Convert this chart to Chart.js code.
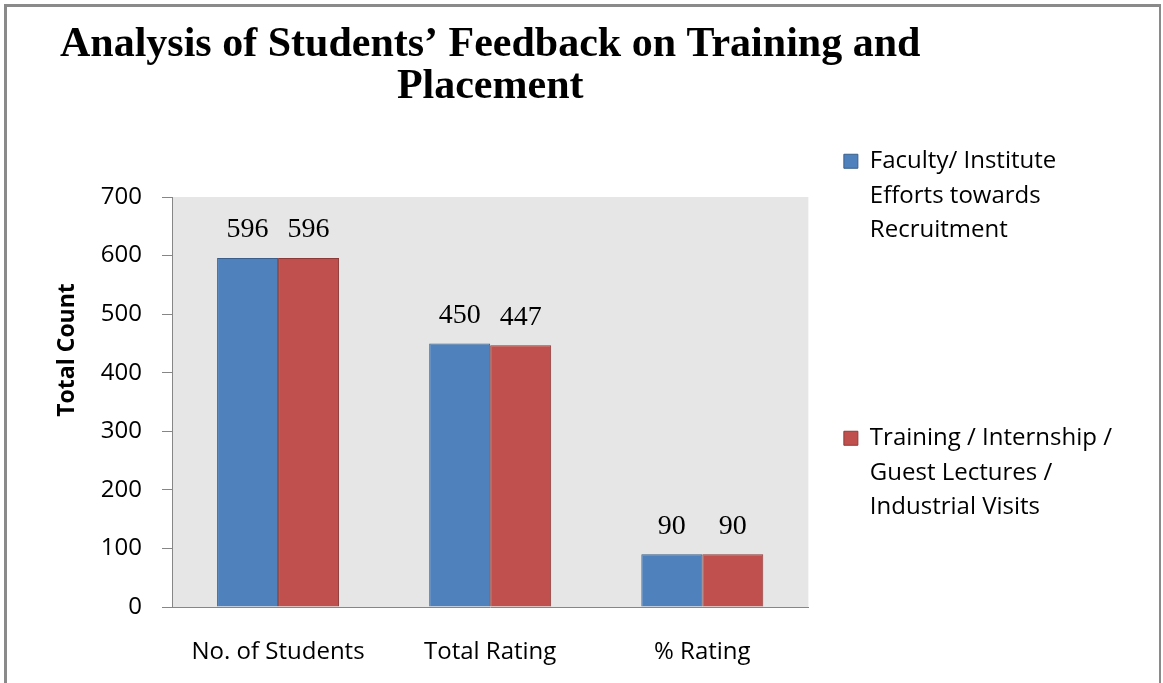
<!DOCTYPE html>
<html>
<head>
<meta charset="utf-8">
<script src="https://cdn.jsdelivr.net/npm/chart.js@4/dist/chart.umd.min.js"></script>
<style>
  html, body { margin: 0; padding: 0; background: #fff; overflow: hidden; }
  #wrap { position: absolute; left: 0; top: 0; width: 1163px; height: 683px; }
  #frame {
    position: absolute; left: 4px; top: 4px; width: 1152px; height: 720px;
    border-top: 3px solid #8a8a8a; border-left: 3px solid #8a8a8a; border-right: 2px solid #8a8a8a;
    pointer-events: none;
  }
</style>
</head>
<body>
<div id="wrap"><canvas id="chart"></canvas></div>
<div id="frame"></div>
<script>
  // categorías y series
  const categories = ["No. of Students", "Total Rating", "% Rating"];
  const facultyValues = [596, 450, 90];
  const trainingValues = [596, 447, 90];
  const seriesNames = [
    ["Faculty/ Institute", "Efforts towards", "Recruitment"],
    ["Training / Internship /", "Guest Lectures /", "Industrial Visits"]
  ];
  const yTicks = [0, 100, 200, 300, 400, 500, 600, 700];

  const COLORS = {
    blue: "#4f81bd",
    blueBorder: "#3a5f8b",
    red: "#c0504d",
    redBorder: "#8c3a38",
    axis: "#868686",
    plotBg: "#e6e6e6"
  };

  const SANS = "'Open Sans', sans-serif";
  const SERIF = "'Liberation Serif', 'Times New Roman', serif";

  // fondo gris del área de trazado
  const plotBackground = {
    id: "plotBackground",
    beforeDraw(chart) {
      const { ctx, chartArea: a } = chart;
      ctx.save();
      ctx.fillStyle = COLORS.plotBg;
      ctx.fillRect(a.left, a.top, a.right - a.left, a.bottom - a.top);
      ctx.restore();
    }
  };

  // centrar el título sobre el área de trazado (no sobre todo el lienzo)
  const centerTitle = {
    id: "centerTitle",
    afterLayout(chart) {
      const t = chart.titleBlock;
      const a = chart.chartArea;
      if (!t) return;
      const mid = (a.left + a.right) / 2;
      const half = (t.right - t.left) / 2;
      t.left = mid - half;
      t.right = mid + half;
    }
  };

  // valores encima de cada barra
  const barValues = {
    id: "barValues",
    afterDatasetsDraw(chart) {
      const { ctx } = chart;
      ctx.save();
      ctx.font = "28px " + SERIF;
      ctx.fillStyle = "#000";
      ctx.textAlign = "center";
      ctx.textBaseline = "middle";
      chart.data.datasets.forEach((ds, i) => {
        chart.getDatasetMeta(i).data.forEach((bar, j) => {
          ctx.fillText(String(ds.data[j]), bar.x, bar.y - 28);
        });
      });
      ctx.restore();
    }
  };

  // título del eje Y
  const yTitle = {
    id: "yTitle",
    afterDraw(chart) {
      const { ctx, chartArea: a } = chart;
      ctx.save();
      ctx.translate(67, a.top + (a.bottom - a.top) * 0.373);
      ctx.rotate(-Math.PI / 2);
      ctx.font = "bold 23px " + SANS;
      ctx.fillStyle = "#000";
      ctx.textAlign = "center";
      ctx.textBaseline = "middle";
      ctx.fillText("Total Count", 0, 0);
      ctx.restore();
    }
  };

  const init = () => {
    new Chart(document.getElementById("chart"), {
      type: "bar",
      data: {
        labels: categories,
        datasets: [
          {
            label: seriesNames[0],
            data: facultyValues,
            backgroundColor: COLORS.blue,
            borderColor: COLORS.blueBorder,
            borderWidth: 1
          },
          {
            label: seriesNames[1],
            data: trainingValues,
            backgroundColor: COLORS.red,
            borderColor: COLORS.redBorder,
            borderWidth: 1
          }
        ]
      },
      options: {
        responsive: true,
        maintainAspectRatio: false,
        animation: false,
        layout: { padding: { left: 0, top: 0, right: 41, bottom: 4 } },
        datasets: {
          bar: { categoryPercentage: 0.575, barPercentage: 1 }
        },
        plugins: {
          title: {
            display: true,
            text: ["Analysis of Students\u2019 Feedback on Training and", "Placement"],
            color: "#000",
            font: { family: SERIF, size: 42, weight: "bold", lineHeight: 1.0 },
            padding: { top: 24, bottom: 89 }
          },
          legend: {
            position: "right",
            align: "center",
            maxWidth: 420,
            labels: {
              boxWidth: 14,
              boxHeight: 14,
              padding: 35.5,
              color: "#000",
              font: { family: SANS, size: 24, lineHeight: 1.4375 },
              generateLabels: (chart) => chart.data.datasets.map((ds, i) => {
                // el primer elemento se alarga con líneas vacías para separar las dos entradas
                const lines = i === 0 ? ds.label.concat(["", "", "", ""]) : ds.label;
                return {
                  text: lines,
                  fillStyle: ds.backgroundColor,
                  strokeStyle: ds.borderColor,
                  lineWidth: 1,
                  datasetIndex: i,
                  hidden: false
                };
              })
            }
          },
          tooltip: { enabled: false }
        },
        scales: {
          x: {
            afterFit: (scale) => { scale.height = 72; },
            grid: { display: false, drawTicks: false },
            border: { display: true, color: COLORS.axis, width: 1 },
            ticks: {
              color: "#000",
              padding: 31,
              font: { family: SANS, size: 24 }
            }
          },
          y: {
            min: 0,
            max: 700,
            afterFit: (scale) => { scale.width = 172; },
            afterBuildTicks: (scale) => { scale.ticks = yTicks.map(v => ({ value: v })); },
            grid: {
              drawOnChartArea: false,
              drawTicks: true,
              tickLength: 10,
              color: COLORS.axis
            },
            border: { display: true, color: COLORS.axis, width: 1 },
            ticks: {
              color: "#000",
              padding: 20,
              font: { family: SANS, size: 24 }
            }
          }
        }
      },
      plugins: [plotBackground, centerTitle, barValues, yTitle]
    });
  };

  Promise.all([
    document.fonts.load("24px 'Open Sans'"),
    document.fonts.load("bold 23px 'Open Sans'"),
    document.fonts.load("bold 42px 'Liberation Serif'"),
    document.fonts.load("28px 'Liberation Serif'")
  ]).then(init, init);
</script>
</body>
</html>
